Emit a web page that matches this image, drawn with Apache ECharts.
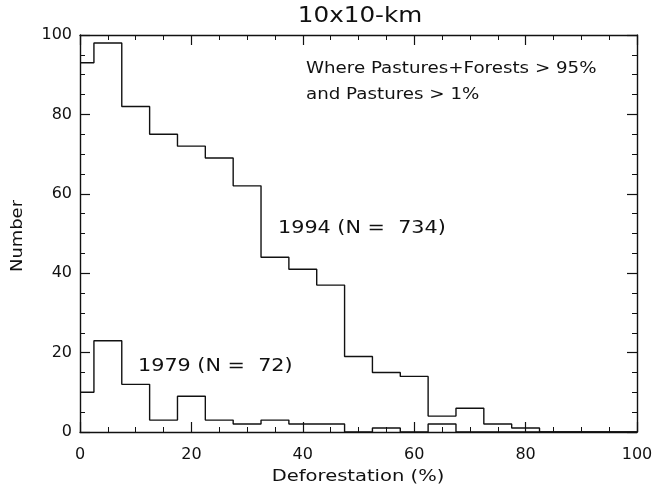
<!DOCTYPE html>
<html><head><meta charset="utf-8">
<script src="https://cdn.jsdelivr.net/npm/echarts@6/dist/echarts.min.js"></script>
<style>html,body{margin:0;padding:0;background:#fff}#c{width:656px;height:485px}</style>
</head><body><div id="c"></div>
<script>
// Bin centres (% deforestation), bins 5% wide
const binCenters = [0,5,10,15,20,25,30,35,40,45,50,55,60,65,70,75,80,85,90,95,100];
const counts1994 = [93,98,82,75,72,69,62,44,41,37,19,15,14,4,6,2,1,0,0,0,0];
const counts1979 = [10,23,12,3,9,3,2,3,2,2,0,1,0,2,0,0,0,0,0,0,0];
const xTickLabels = ['0','20','40','60','80','100'];
const yTickLabels = ['0','20','40','60','80','100'];
const titleText = '10x10-km';
const xName = 'Deforestation (%)';
const yName = 'Number';
const noteLines = ['Where Pastures+Forests > 95%', 'and Pastures > 1%'];
const label1994 = '1994 (N =  734)';
const label1979 = '1979 (N =  72)';

const FONT = 'DejaVu Sans';
const INK = '#111';
const chart = echarts.init(document.getElementById('c'), null, {renderer: 'canvas'});

function pairs(vals){ return binCenters.map((x,i)=>[x, vals[i]]); }

const axisCommon = {
  type: 'value', min: 0, max: 100, interval: 20,
  axisLine: {show: true, onZero: false, lineStyle: {color: INK, width: 1.4}},
  axisTick: {show: true, inside: true, length: 10, lineStyle: {color: INK, width: 1.2}},
  minorTick: {show: true, splitNumber: 4, length: 5, lineStyle: {color: INK, width: 1}},
  splitLine: {show: false},
  minorSplitLine: {show: false}
};

function txt(x, y, text, size, sx, extra){
  return Object.assign({type: 'text', x: x, y: y, scaleX: sx, scaleY: 1,
    style: {text: text, fill: INK, font: size + 'px "DejaVu Sans"', align: 'left', verticalAlign: 'middle'}}, extra || {});
}

chart.setOption({
  animation: false,
  backgroundColor: '#fff',
  grid: {left: 80, right: 19, top: 35, bottom: 53, containLabel: false},
  xAxis: [
    Object.assign({}, axisCommon, {
      position: 'bottom',
      axisLabel: {show: true, color: INK, fontFamily: FONT, fontSize: 16, margin: 15,
        formatter: v => xTickLabels[Math.round(v/20)]}
    }),
    Object.assign({}, axisCommon, {position: 'top', axisLabel: {show: false}})
  ],
  yAxis: [
    Object.assign({}, axisCommon, {
      position: 'left',
      axisLabel: {show: true, color: INK, fontFamily: FONT, fontSize: 16, margin: 8,
        formatter: v => yTickLabels[Math.round(v/20)]}
    }),
    Object.assign({}, axisCommon, {position: 'right', axisLabel: {show: false}})
  ],
  series: [
    {type: 'line', name: '1994', step: 'middle', data: pairs(counts1994), symbol: 'none',
     lineStyle: {color: INK, width: 1.4}, clip: true, z: 3},
    {type: 'line', name: '1979', step: 'middle', data: pairs(counts1979), symbol: 'none',
     lineStyle: {color: INK, width: 1.4}, clip: true, z: 3}
  ],
  graphic: [
    (function(){ const t = txt(360, 16, titleText, 22, 1.12); t.style.align = 'center'; return t; })(),
    (function(){ const t = txt(358, 477, xName, 16, 1.22); t.style.align = 'center'; return t; })(),
    (function(){ const t = txt(18, 236, yName, 16, 1.12); t.style.align = 'center'; t.rotation = Math.PI/2; return t; })(),
    txt(306, 69, noteLines[0], 16, 1.14),
    txt(306, 95, noteLines[1], 16, 1.14),
    txt(278, 229, label1994, 17, 1.22),
    txt(138, 367, label1979, 17, 1.22)
  ]
});
</script>
</body></html>
